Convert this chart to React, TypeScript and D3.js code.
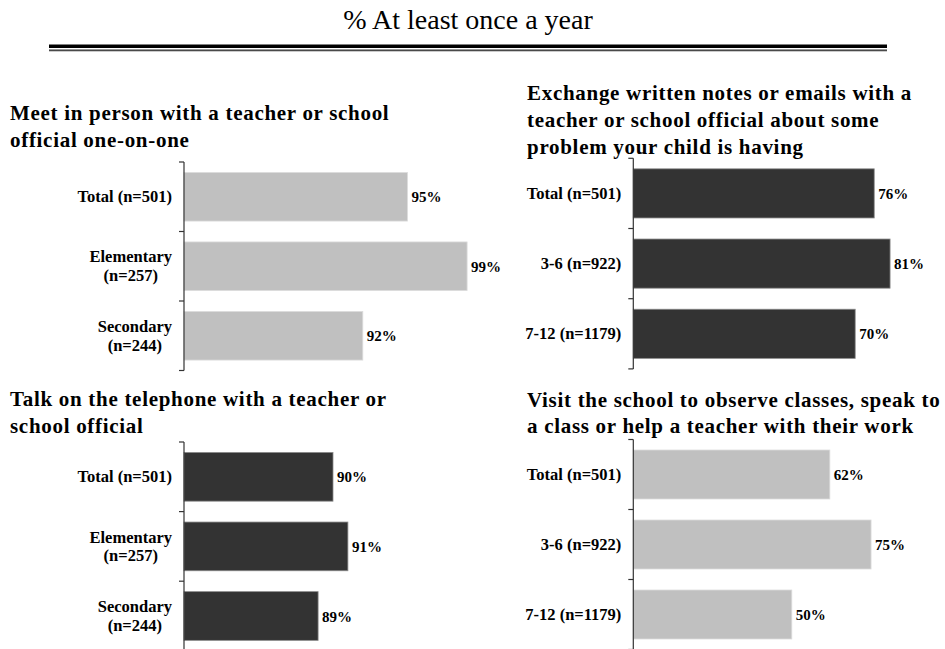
import React from "react";
import * as d3 from "d3";

const chartTitle = "% At least once a year";

const meetTitle = ["Meet in person with a teacher or school", "official one-on-one"];
const notesTitle = [
  "Exchange written notes or emails with a",
  "teacher or school official about some",
  "problem your child is having",
];
const phoneTitle = ["Talk on the telephone with a teacher or", "school official"];
const visitTitle = [
  "Visit the school to observe classes, speak to",
  "a class or help a teacher with their work",
];

const levelGroups = ["Total (n=501)", "Elementary\n(n=257)", "Secondary\n(n=244)"];
const gradeGroups = ["Total (n=501)", "3-6 (n=922)", "7-12 (n=1179)"];

const meetValues = [95, 99, 92];
const notesValues = [76, 81, 70];
const phoneValues = [90, 91, 89];
const visitValues = [62, 75, 50];

const zoomDomain = [80, 100];
const fullDomain = [0, 100];

const FONT = "'Liberation Serif', 'Times New Roman', serif";
const LIGHT = "#c0c0c0";
const DARK = "#333333";

function measure(text: string, font: string): number {
  if (typeof document === "undefined") return text.length * 8;
  const c = document.createElement("canvas");
  const ctx = c.getContext("2d");
  if (!ctx) return text.length * 8;
  ctx.font = font;
  return ctx.measureText(text).width;
}

type PanelProps = {
  title: string[];
  titleX: number;
  titleY: number;
  groups: string[];
  values: number[];
  domain: number[];
  axisX: number;
  width: number;
  top: number;
  step: number;
  color: string;
};

const CAT_SIZE = 16.5;

function Panel(p: PanelProps) {
  const y = d3
    .scaleBand<string>()
    .domain(p.groups)
    .range([p.top, p.top + p.step * p.groups.length])
    .paddingInner(0.3)
    .paddingOuter(0.15);
  const x = d3.scaleLinear().domain(p.domain).range([p.axisX, p.axisX + p.width]);
  const [y0, y1] = y.range();
  const tickYs = d3.range(p.groups.length + 1).map((i) => y0 + i * y.step());
  const catFont = `bold ${CAT_SIZE}px ${FONT}`;
  const labelRight = p.axisX - 12;

  return (
    <g>
      {p.title.map((line, i) => (
        <text
          key={i}
          x={p.titleX}
          y={p.titleY + i * 26.8}
          fontFamily={FONT}
          fontWeight="bold"
          fontSize={21}
          letterSpacing={0.7}
          fill="#000"
        >
          {line}
        </text>
      ))}
      {p.groups.map((g, i) => {
        const yb = y(g)!;
        const xe = x(p.values[i]);
        return (
          <rect
            key={g}
            x={p.axisX}
            y={yb}
            width={xe - p.axisX}
            height={y.bandwidth()}
            fill={p.color}
            stroke={p.color === DARK ? "#8a8a8a" : "#dcdcdc"}
            strokeWidth={0.8}
          />
        );
      })}
      <line x1={p.axisX} x2={p.axisX} y1={y0} y2={y1} stroke="#333" strokeWidth={1.2} />
      {tickYs.map((ty, i) => (
        <line key={i} x1={p.axisX - 5} x2={p.axisX} y1={ty} y2={ty} stroke="#333" strokeWidth={1.2} />
      ))}
      {p.groups.map((g) => {
        const lines = g.split("\n");
        const cy = y(g)! + y.bandwidth() / 2;
        if (lines.length === 1) {
          return (
            <text
              key={g}
              x={labelRight}
              y={cy + 5.5}
              textAnchor="end"
              fontFamily={FONT}
              fontWeight="bold"
              fontSize={CAT_SIZE}
              fill="#000"
            >
              {g}
            </text>
          );
        }
        const maxW = d3.max(lines, (l) => measure(l, catFont)) || 0;
        const cx = labelRight - maxW / 2;
        const lh = 18.6;
        const startY = cy + 5.5 - (lh * (lines.length - 1)) / 2;
        return (
          <g key={g}>
            {lines.map((l, j) => (
              <text
                key={j}
                x={cx}
                y={startY + j * lh}
                textAnchor="middle"
                fontFamily={FONT}
                fontWeight="bold"
                fontSize={CAT_SIZE}
                fill="#000"
              >
                {l}
              </text>
            ))}
          </g>
        );
      })}
      {p.groups.map((g, i) => (
        <text
          key={g + "v"}
          x={x(p.values[i]) + 4}
          y={y(g)! + y.bandwidth() / 2 + 5.5}
          fontFamily={FONT}
          fontWeight="bold"
          fontSize={15}
          fill="#000"
        >
          {p.values[i]}%
        </text>
      ))}
    </g>
  );
}

export default function App() {
  return (
    <svg
      width={945}
      height={649}
      style={{ position: "absolute", left: 0, top: 0, background: "#fff" }}
    >
      <rect x={0} y={0} width={945} height={649} fill="#fff" />
      <text x={468} y={29} textAnchor="middle" fontFamily={FONT} fontSize={28} fill="#000">
        {chartTitle}
      </text>
      <rect x={49} y={44.5} width={838} height={3.5} fill="#000" />
      <rect x={49} y={49.6} width={838} height={1.2} fill="#000" />
      <rect x={49} y={50.8} width={838} height={0.8} fill="#aaa" />

      <Panel
        title={meetTitle}
        titleX={10}
        titleY={120}
        groups={levelGroups}
        values={meetValues}
        domain={zoomDomain}
        axisX={184}
        width={298}
        top={162}
        step={69.5}
        color={LIGHT}
      />
      <Panel
        title={notesTitle}
        titleX={527}
        titleY={100}
        groups={gradeGroups}
        values={notesValues}
        domain={fullDomain}
        axisX={633.3}
        width={317}
        top={158.3}
        step={70.2}
        color={DARK}
      />
      <Panel
        title={phoneTitle}
        titleX={10}
        titleY={405.7}
        groups={levelGroups}
        values={phoneValues}
        domain={zoomDomain}
        axisX={184}
        width={298}
        top={442}
        step={69.6}
        color={DARK}
      />
      <Panel
        title={visitTitle}
        titleX={527}
        titleY={406.5}
        groups={gradeGroups}
        values={visitValues}
        domain={fullDomain}
        axisX={633.3}
        width={317}
        top={439.5}
        step={70}
        color={LIGHT}
      />
    </svg>
  );
}
